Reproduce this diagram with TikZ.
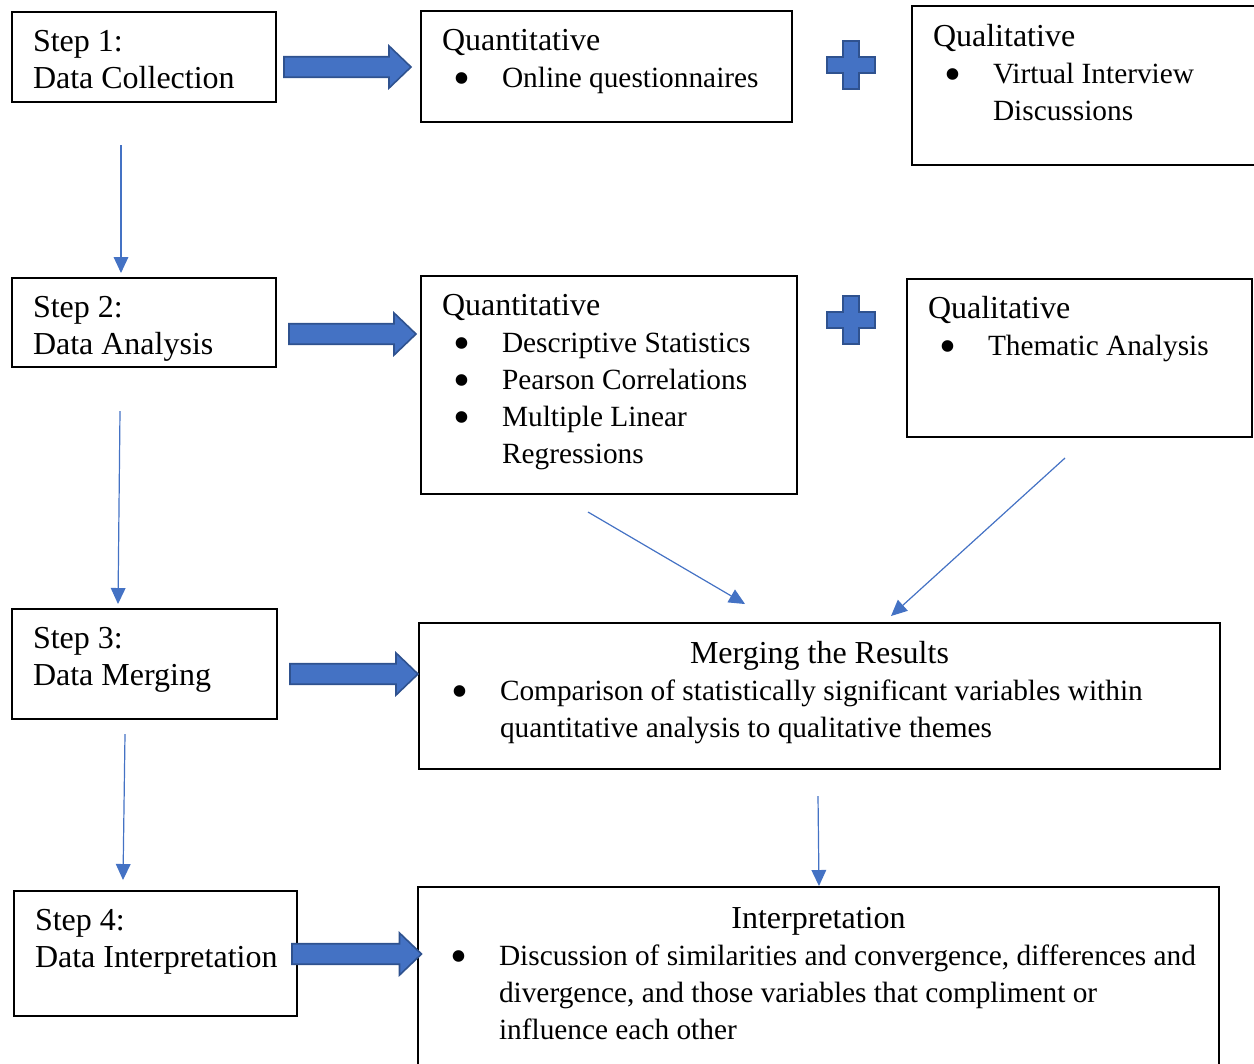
\documentclass[tikz,border=0pt]{standalone}
\usepackage{fontspec}
\setmainfont{Liberation Serif}
\usepackage{tikz}
\usetikzlibrary{positioning,calc,arrows.meta}
\definecolor{flowblue}{HTML}{4472C4}
\definecolor{flowedge}{HTML}{2F528F}
\newlength{\pxu}
\setlength{\pxu}{0.375pt}
\tikzset{
    box/.style={draw, line width=0.75pt, inner sep=0pt, anchor=north west},
    fat/.style={draw=flowedge, fill=flowblue, line width=0.6pt, line join=miter},
    link/.style={draw=flowblue, line width=0.45pt, -{Triangle[width=5.5pt,length=6pt]}},
}
% width, height, first baseline (all in px), text
\newcommand{\boxtext}[4]{\parbox[t][#2\pxu][t]{#1\pxu}{\fontsize{12}{13.875}\selectfont
    \raggedright\leftskip=21\pxu\parskip=0pt
    \vspace*{\dimexpr#3\pxu-\ht\strutbox\relax}\strut#4}}
\newcommand{\ttl}[1]{\hspace*{-21\pxu}\makebox[\linewidth][c]{#1}}
\newcommand{\itm}{\par\fontsize{11}{13.875}\selectfont
    \hangindent=60\pxu\hangafter=1\noindent
    \makebox[60\pxu][l]{\hspace{11\pxu}\smash{\raisebox{-0.27em}{\scalebox{1.65}{\textbullet}}}}}
\newcommand{\fatarrow}[2]{%
  \path[fat] let \p1=(#1), \p2=(#2) in
    (\x1,\y1+3.85pt) -- (\x2-8.25pt,\y1+3.85pt) -- (\x2-8.25pt,\y1+7.9pt)
    -- (\x2,\y1) -- (\x2-8.25pt,\y1-7.9pt) -- (\x2-8.25pt,\y1-3.85pt)
    -- (\x1,\y1-3.85pt) -- cycle;}
\newcommand{\plussign}[1]{%
  \path[fat, shift={#1}] (-8,-24) -- (8,-24) -- (8,-8) -- (24,-8) -- (24,8) -- (8,8)
    -- (8,24) -- (-8,24) -- (-8,8) -- (-24,8) -- (-24,-8) -- (-8,-8) -- cycle;}

\begin{document}
\begin{tikzpicture}[x=0.375pt, y=-0.375pt]
    \useasboundingbox (0,0) rectangle (1254,1063);
    % steps
    \node[box] (s1) at (11,11) {\boxtext{264}{90}{39}{Step 1:\\Data Collection}};
    \node[box] (s2) at (11,277) {\boxtext{264}{89}{39}{Step 2:\\Data Analysis}};
    \node[box] (s3) at (11,608) {\boxtext{265}{110}{39}{Step 3:\\Data Merging}};
    \node[box] (s4) at (13,890) {\boxtext{283}{125}{39}{Step 4:\\Data Interpretation}};
    % methods
    \node[box] (q1) at (420,10) {\boxtext{371}{111}{39}{Quantitative
        \itm Online questionnaires}};
    \node[box] (ql1) at (911,5) {\boxtext{350}{159}{40}{Qualitative
        \itm Virtual Interview\newline Discussions}};
    \node[box] (q2) at (420,275) {\boxtext{376}{218}{39}{Quantitative
        \itm Descriptive Statistics
        \itm Pearson Correlations
        \itm Multiple Linear\newline Regressions}};
    \node[box] (ql2) at (906,278) {\boxtext{345}{158}{39}{Qualitative
        \itm Thematic Analysis}};
    \node[box] (merge) at (418,622) {\boxtext{801}{146}{40}{\ttl{Merging the Results}
        \itm Comparison of statistically significant variables within\newline quantitative analysis to qualitative themes}};
    \node[box] (interp) at (417,886) {\boxtext{801}{190}{41}{\ttl{Interpretation}
        \itm Discussion of similarities and convergence, differences and\newline divergence, and those variables that compliment or\newline influence each other}};
    % block arrows and plus signs
    \fatarrow{$(s1.east)+(7,10)$}{$(q1.west)+(-9,0)$}
    \fatarrow{$(s2.east)+(12,11.5)$}{$(q2.west)+(-4,0)$}
    \fatarrow{$(s3.east)+(12,10)$}{$(merge.west)+(0,0)$}
    \fatarrow{$(s4.east)+(-6,0.5)$}{$(interp.west)+(4.5,0)$}
    \plussign{(851,65)}
    \plussign{(851,320)}
    % thin arrows
    \draw[link] ($(s1.south)+(-23,42)$) -- ($(s2.north)+(-23,-4)$);
    \draw[link] ($(s2.south)+(-24,43)$) -- ($(s3.north)+(-26.5,-4)$);
    \draw[link] ($(s3.south)+(-19.5,14)$) -- ($(s4.north)+(-32.5,-10)$);
    \draw[link] ($(q2.south)+(-21,17)$) -- ($(merge.north)+(-74.5,-18)$);
    \draw[link] ($(ql2.south)+(-14.5,20)$) -- ($(merge.north)+(71.5,-6)$);
    \draw[link] ($(merge.south)+(-1.5,26)$) -- ($(interp.north)+(0.5,0)$);
\end{tikzpicture}
\end{document}
